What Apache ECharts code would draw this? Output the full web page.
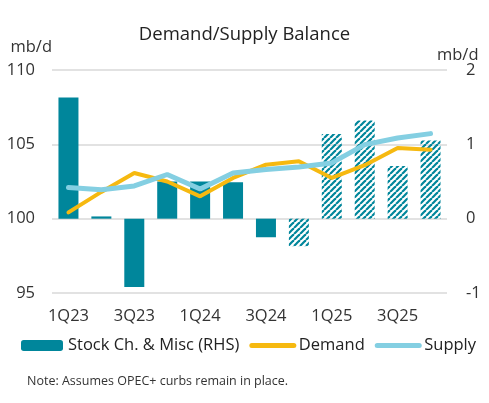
<!DOCTYPE html>
<html><head><meta charset="utf-8">
<script src="https://cdn.jsdelivr.net/npm/echarts@6/dist/echarts.min.js"></script>
<style>html,body{margin:0;padding:0;background:#fff}#c{width:489px;height:403px}</style>
</head><body><div id="c"></div>
<script>
const categories = ['1Q23','2Q23','3Q23','4Q23','1Q24','2Q24','3Q24','4Q24','1Q25','2Q25','3Q25','4Q25'];
const stockChange = [1.63, 0.03, -0.92, 0.5, 0.5, 0.49, -0.25, -0.37, 1.14, 1.32, 0.71, 1.05];
const forecastFrom = 7;
const demand = [100.42, 101.8, 103.07, 102.5, 101.5, 102.74, 103.63, 103.86, 102.74, 103.6, 104.76, 104.64];
const supply = [102.1, 101.95, 102.2, 102.97, 102.0, 103.07, 103.3, 103.48, 103.75, 104.98, 105.43, 105.72];
const leftTicks = [95, 100, 105, 110];
const rightTicks = [-1, 0, 1, 2];

const teal = '#00869b';
const pc = document.createElement('canvas');
pc.width = 6; pc.height = 6;
const g = pc.getContext('2d');
g.strokeStyle = teal; g.lineWidth = 2.2;
for (let o = -6; o <= 12; o += 6) {
  g.beginPath(); g.moveTo(o, 6); g.lineTo(o + 6, 0); g.stroke();
}
const hatch = {image: pc, repeat: 'repeat'};

const font = '"Open Sans", "Noto Sans", sans-serif';
const noSym = {color: 'rgba(0,0,0,0)', borderWidth: 0};
const chart = echarts.init(document.getElementById('c'), null, {renderer: 'canvas'});
chart.setOption({
  animation: false,
  textStyle: {fontFamily: font},
  title: {text: 'Demand/Supply Balance', left: 'center', top: 20,
    textStyle: {fontFamily: font, fontSize: 18.5, fontWeight: 'normal', color: '#222'}},
  grid: {left: 52, right: 42, top: 70, bottom: 110},
  legend: {top: 332, left: 16, width: 472, itemWidth: 42, itemHeight: 11, itemGap: 10,
    textStyle: {fontFamily: font, fontSize: 16.5, color: '#222'},
    data: [{name: 'Stock Ch. & Misc (RHS)'},
           {name: 'Demand', itemStyle: noSym, lineStyle: {width: 5, cap: 'round'}},
           {name: 'Supply', itemStyle: noSym, lineStyle: {width: 5, cap: 'round'}}]},
  xAxis: {type: 'category', data: categories,
    axisLine: {show: false}, axisTick: {show: false},
    axisLabel: {interval: 1, fontSize: 16.5, color: '#333', margin: 15}},
  yAxis: [
    {type: 'value', min: 95, max: 110, interval: 5, name: 'mb/d', nameLocation: 'end',
     nameGap: 23, nameTextStyle: {fontSize: 16.5, color: '#333', align: 'right', verticalAlign: 'middle', padding: [0, 0, 0, 0]},
     axisLabel: {fontSize: 16.5, color: '#333', margin: 17},
     splitLine: {lineStyle: {color: '#d9d9d9', width: 1.5}}},
    {type: 'value', min: -1, max: 2, interval: 1,
     axisLabel: {fontSize: 16.5, color: '#333', margin: 19},
     splitLine: {show: false}}
  ],
  series: [
    {name: 'Stock Ch. & Misc (RHS)', type: 'bar', yAxisIndex: 1, barWidth: 20,
     itemStyle: {color: teal},
     data: stockChange.map((v, i) => i >= forecastFrom ? {value: v, itemStyle: {color: hatch}} : v)},
    {name: 'Demand', type: 'line', data: demand, symbol: 'none', z: 3,
     lineStyle: {color: '#f6b910', width: 4, cap: 'round'}, itemStyle: {color: '#f6b910'}},
    {name: 'Supply', type: 'line', data: supply, symbol: 'none', z: 4,
     lineStyle: {color: '#84cfe2', width: 5, cap: 'round'}, itemStyle: {color: '#84cfe2'}}
  ],
  graphic: [
    {type: 'text', left: 437, top: 47,
     style: {text: 'mb/d', font: '16.5px ' + font, fill: '#333'}},
    {type: 'text', left: 27, top: 375,
     style: {text: 'Note: Assumes OPEC+ curbs remain in place.', font: '12.5px ' + font, fill: '#333'}}]
});
</script></body></html>
